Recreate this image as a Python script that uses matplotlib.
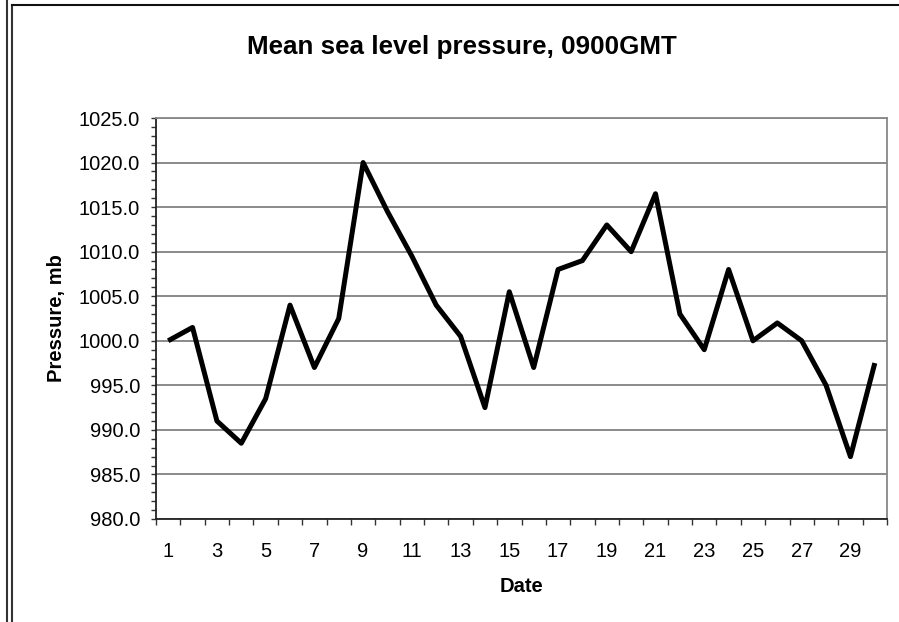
"""Mean sea level pressure chart, Excel style."""

import matplotlib

matplotlib.use("Agg")
import matplotlib.pyplot as plt
from matplotlib.lines import Line2D
from matplotlib.ticker import FormatStrFormatter, MultipleLocator
import numpy as np

plt.rcParams["font.family"] = ["Liberation Sans", "DejaVu Sans"]

dates = list(range(1, 31))
pressure = [1000.0, 1001.5, 991.0, 988.5, 993.5, 1004.0, 997.0, 1002.5, 1020.0, 1014.5,
            1009.5, 1004.0, 1000.5, 992.5, 1005.5, 997.0, 1008.0, 1009.0, 1013.0, 1010.0,
            1016.5, 1003.0, 999.0, 1008.0, 1000.0, 1002.0, 1000.0, 995.0, 987.0, 997.5]
x_labels = [str(d) for d in dates[::2]]

W, H = 899, 622
fig = plt.figure(figsize=(W / 100, H / 100), dpi=100)
ax = fig.add_axes([156 / W, 1 - 519 / H, (887 - 156) / W, (519 - 118) / H])

ax.plot(dates, pressure, color="black", linewidth=3.6, solid_joinstyle="round",
        solid_capstyle="butt", zorder=3)

ax.set_xlim(0.5, 30.5)
ax.set_ylim(980, 1025)

ax.yaxis.set_major_locator(MultipleLocator(5))
ax.yaxis.set_minor_locator(MultipleLocator(1))
ax.yaxis.set_major_formatter(FormatStrFormatter("%.1f"))
ax.tick_params(axis="y", which="both", direction="out", length=3.6, width=1, labelsize=14.5,
               pad=8, color="#333333")

ax.set_xticks(dates[::2])
ax.set_xticklabels(x_labels)
ax.set_xticks(np.arange(0.5, 31, 1), minor=True)
ax.tick_params(axis="x", which="major", length=0, labelsize=14.5, pad=16.5)
ax.tick_params(axis="x", which="minor", direction="out", length=4.3, width=1, color="#333333")

ax.grid(axis="y", which="major", color="#777777", linewidth=1.2)
ax.set_axisbelow(True)
for side in ("left", "bottom"):
    ax.spines[side].set_color("#222222")
    ax.spines[side].set_linewidth(1.3)
for side in ("top", "right"):
    ax.spines[side].set_color("#888888")
    ax.spines[side].set_linewidth(1.3)

ax.set_xlabel("Date", fontsize=14.5, fontweight="bold")
ax.xaxis.set_label_coords(0.5, -(577 - 519) / 401)
ax.set_ylabel("Pressure, mb", fontsize=14.5, fontweight="bold")
ax.yaxis.set_label_coords((66 - 156) / 731, 0.5)
fig.text(462 / W, 1 - 47 / H, "Mean sea level pressure, 0900GMT", fontsize=18.7,
         fontweight="bold", ha="center", va="center")

# outer frame lines
fig.add_artist(Line2D([6.5 / W, 6.5 / W], [0, 1], transform=fig.transFigure,
                      color="#333333", linewidth=1.5))
fig.add_artist(Line2D([11.5 / W, 11.5 / W], [0, 1 - 5 / H], transform=fig.transFigure,
                      color="#333333", linewidth=1.5))
fig.add_artist(Line2D([11.5 / W, 1], [1 - 5 / H, 1 - 5 / H], transform=fig.transFigure,
                      color="#111111", linewidth=1.5))

fig.savefig("out.png", dpi=100)
plt.close(fig)
